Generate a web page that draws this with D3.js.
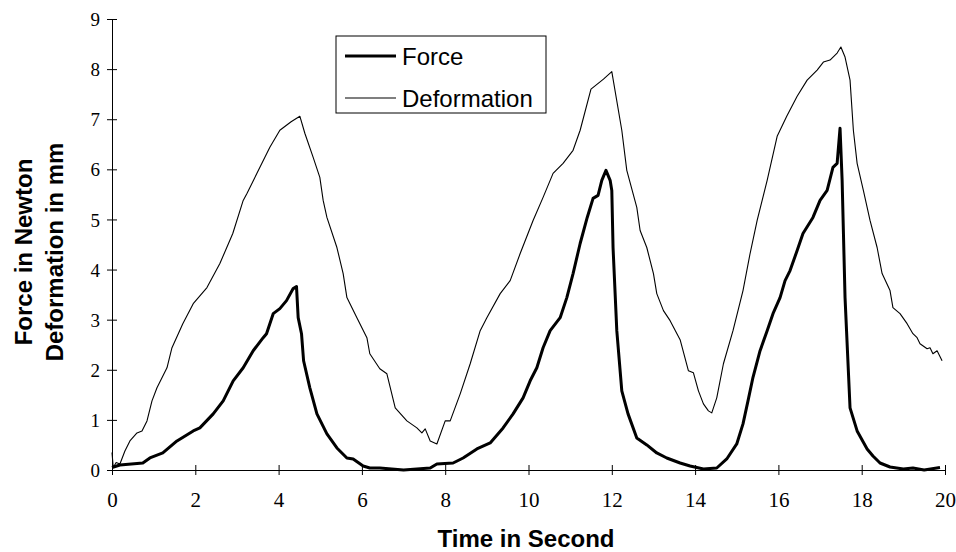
<!DOCTYPE html>
<html>
<head>
<meta charset="utf-8">
<script src="https://cdn.jsdelivr.net/npm/d3@7"></script>
<style>
  body { margin: 0; background: #fff; }
</style>
</head>
<body>
<svg id="canvas" width="956" height="552"></svg>
<script>
// dati: [tempo in s, valore]
const force = [
  [0,0.05],[0.19,0.1],[0.74,0.14],[0.91,0.24],[1.22,0.34],[1.56,0.58],[1.95,0.78],[2.11,0.84],
  [2.43,1.12],[2.67,1.38],[2.91,1.78],[3.15,2.04],[3.39,2.38],[3.63,2.64],[3.71,2.72],[3.87,3.12],
  [4.03,3.22],[4.19,3.38],[4.35,3.62],[4.43,3.66],[4.47,3.04],[4.55,2.72],[4.6,2.18],[4.75,1.64],
  [4.92,1.12],[5.16,0.72],[5.4,0.44],[5.64,0.24],[5.79,0.22],[6.03,0.08],[6.19,0.04],[6.43,0.04],
  [7.0,0.0],[7.64,0.04],[7.8,0.12],[8.19,0.14],[8.43,0.24],[8.76,0.42],[9.08,0.54],[9.39,0.84],
  [9.63,1.12],[9.87,1.44],[10.04,1.78],[10.2,2.04],[10.35,2.44],[10.52,2.78],[10.76,3.04],[10.92,3.44],
  [11.07,3.92],[11.24,4.52],[11.41,5.04],[11.55,5.42],[11.67,5.48],[11.76,5.78],[11.86,5.98],[11.96,5.78],
  [12.0,5.58],[12.03,4.44],[12.12,2.78],[12.24,1.58],[12.39,1.12],[12.6,0.64],[12.84,0.5],[13.08,0.34],
  [13.32,0.24],[13.64,0.14],[13.88,0.08],[14.2,0.02],[14.52,0.04],[14.76,0.22],[15.0,0.52],[15.15,0.92],
  [15.27,1.38],[15.39,1.85],[15.56,2.38],[15.73,2.78],[15.87,3.12],[16.04,3.44],[16.16,3.78],[16.28,3.98],
  [16.45,4.38],[16.59,4.72],[16.83,5.04],[17.0,5.38],[17.17,5.58],[17.31,6.04],[17.41,6.12],[17.48,6.82],
  [17.53,5.78],[17.6,3.44],[17.72,1.24],[17.89,0.78],[18.13,0.42],[18.27,0.28],[18.44,0.14],[18.68,0.06],
  [19.0,0.02],[19.23,0.04],[19.5,0.0],[19.88,0.05]
];

const deformation = [
  [0,0.35],[0.03,0.05],[0.1,0.15],[0.19,0.12],[0.31,0.38],[0.43,0.58],[0.6,0.74],[0.72,0.78],
  [0.84,0.98],[0.96,1.38],[1.08,1.64],[1.32,2.04],[1.44,2.44],[1.7,2.92],[1.95,3.32],[2.28,3.64],
  [2.59,4.12],[2.9,4.72],[3.15,5.38],[3.24,5.52],[3.48,5.92],[3.79,6.44],[4.03,6.78],[4.3,6.95],
  [4.51,7.06],[4.63,6.72],[4.83,6.24],[4.99,5.84],[5.07,5.38],[5.16,5.04],[5.4,4.44],[5.55,3.92],
  [5.64,3.44],[5.88,3.04],[6.12,2.64],[6.19,2.32],[6.43,2.02],[6.6,1.92],[6.8,1.24],[7.08,0.98],
  [7.32,0.84],[7.44,0.74],[7.52,0.82],[7.64,0.58],[7.8,0.52],[8.0,0.98],[8.12,0.98],[8.36,1.52],
  [8.6,2.12],[8.84,2.78],[9.0,3.04],[9.32,3.52],[9.56,3.78],[9.8,4.32],[10.11,4.98],[10.35,5.44],
  [10.59,5.92],[10.83,6.12],[11.07,6.38],[11.24,6.78],[11.5,7.6],[11.8,7.8],[12.0,7.95],[12.24,6.78],
  [12.36,5.98],[12.6,5.24],[12.68,4.78],[12.84,4.44],[13.0,3.92],[13.08,3.52],[13.24,3.18],[13.4,2.98],
  [13.64,2.6],[13.84,1.98],[13.96,1.94],[14.08,1.58],[14.2,1.32],[14.32,1.18],[14.4,1.14],[14.52,1.44],
  [14.68,2.12],[14.91,2.78],[15.15,3.58],[15.32,4.32],[15.49,4.98],[15.73,5.78],[15.97,6.66],[16.2,7.06],
  [16.45,7.46],[16.69,7.78],[16.93,7.98],[17.08,8.14],[17.24,8.18],[17.41,8.32],[17.5,8.44],[17.6,8.24],
  [17.72,7.78],[17.8,6.78],[17.89,6.12],[18.04,5.58],[18.2,4.98],[18.37,4.44],[18.49,3.92],[18.68,3.58],
  [18.75,3.24],[18.92,3.12],[19.09,2.92],[19.23,2.72],[19.33,2.64],[19.4,2.52],[19.57,2.42],[19.64,2.44],
  [19.71,2.32],[19.81,2.38],[19.93,2.18]
];

const xTicks = [0, 2, 4, 6, 8, 10, 12, 14, 16, 18, 20];
const yTicks = [0, 1, 2, 3, 4, 5, 6, 7, 8, 9];
const legendLabels = ["Force", "Deformation"];

const SERIF = "'Liberation Serif'";
const SANS = "'Liberation Sans'";

const svg = d3.select("#canvas");

const scalaX = d3.scaleLinear().domain([0, 20]).range([112, 945]);
const scalaY = d3.scaleLinear().domain([0, 9]).range([470, 19]);

// asse x
const gx = svg.append("g")
  .attr("transform", `translate(0,${scalaY(0)})`)
  .call(d3.axisBottom(scalaX).tickValues(xTicks).tickSizeOuter(0).tickSize(5).tickPadding(0));
gx.attr("font-family", null).attr("font-size", null);
gx.selectAll(".tick line").attr("y1", -5).attr("y2", 5).attr("stroke", "#000");
gx.select(".domain").attr("stroke", "#000");
gx.selectAll(".tick text")
  .attr("y", 37)
  .attr("dy", 0)
  .style("font-family", SERIF)
  .style("font-size", "21px")
  .attr("fill", "#000");

// asse y
const gy = svg.append("g")
  .attr("transform", `translate(${scalaX(0)},0)`)
  .call(d3.axisLeft(scalaY).tickValues(yTicks).tickSizeOuter(0).tickSize(5));
gy.attr("font-family", null).attr("font-size", null);
gy.selectAll(".tick line").attr("x1", -5).attr("x2", 5).attr("stroke", "#000");
gy.select(".domain").attr("stroke", "#000");
gy.selectAll(".tick text")
  .attr("x", -12)
  .attr("dy", "0.35em")
  .style("font-family", SERIF)
  .style("font-size", "19px")
  .attr("fill", "#000");

const linea = d3.line()
  .x(d => scalaX(d[0]))
  .y(d => scalaY(d[1]));

svg.append("path")
  .datum(deformation)
  .attr("d", linea)
  .attr("fill", "none")
  .attr("stroke", "#000")
  .attr("stroke-width", 1.1)
  .attr("stroke-linejoin", "round");

svg.append("path")
  .datum(force)
  .attr("d", linea)
  .attr("fill", "none")
  .attr("stroke", "#000")
  .attr("stroke-width", 3)
  .attr("stroke-linejoin", "round");

// titoli degli assi
svg.append("text")
  .attr("x", 526)
  .attr("y", 547)
  .attr("text-anchor", "middle")
  .style("font-family", SANS)
  .style("font-weight", "bold")
  .style("font-size", "24px")
  .text("Time in Second");

const titoloY = svg.append("text")
  .attr("transform", "translate(32,252) rotate(-90)")
  .attr("text-anchor", "middle")
  .style("font-family", SANS)
  .style("font-weight", "bold")
  .style("font-size", "24px");
titoloY.append("tspan").attr("x", 0).attr("y", 0).text("Force in Newton");
titoloY.append("tspan").attr("x", 0).attr("y", 31).text("Deformation in mm");

// legenda
const legenda = svg.append("g");
legenda.append("rect")
  .attr("x", 336).attr("y", 36)
  .attr("width", 210).attr("height", 77)
  .attr("fill", "#fff")
  .attr("stroke", "#000")
  .attr("stroke-width", 1);

const spessori = [3, 1.1];
legendLabels.forEach((lab, i) => {
  const yc = 56 + i * 42;
  legenda.append("line")
    .attr("x1", 345).attr("x2", 396)
    .attr("y1", yc).attr("y2", yc)
    .attr("stroke", "#000")
    .attr("stroke-width", spessori[i]);
  legenda.append("text")
    .attr("x", 402)
    .attr("y", yc + 8.5)
    .style("font-family", SANS)
    .style("font-size", "24px")
    .text(lab);
});
</script>
</body>
</html>
